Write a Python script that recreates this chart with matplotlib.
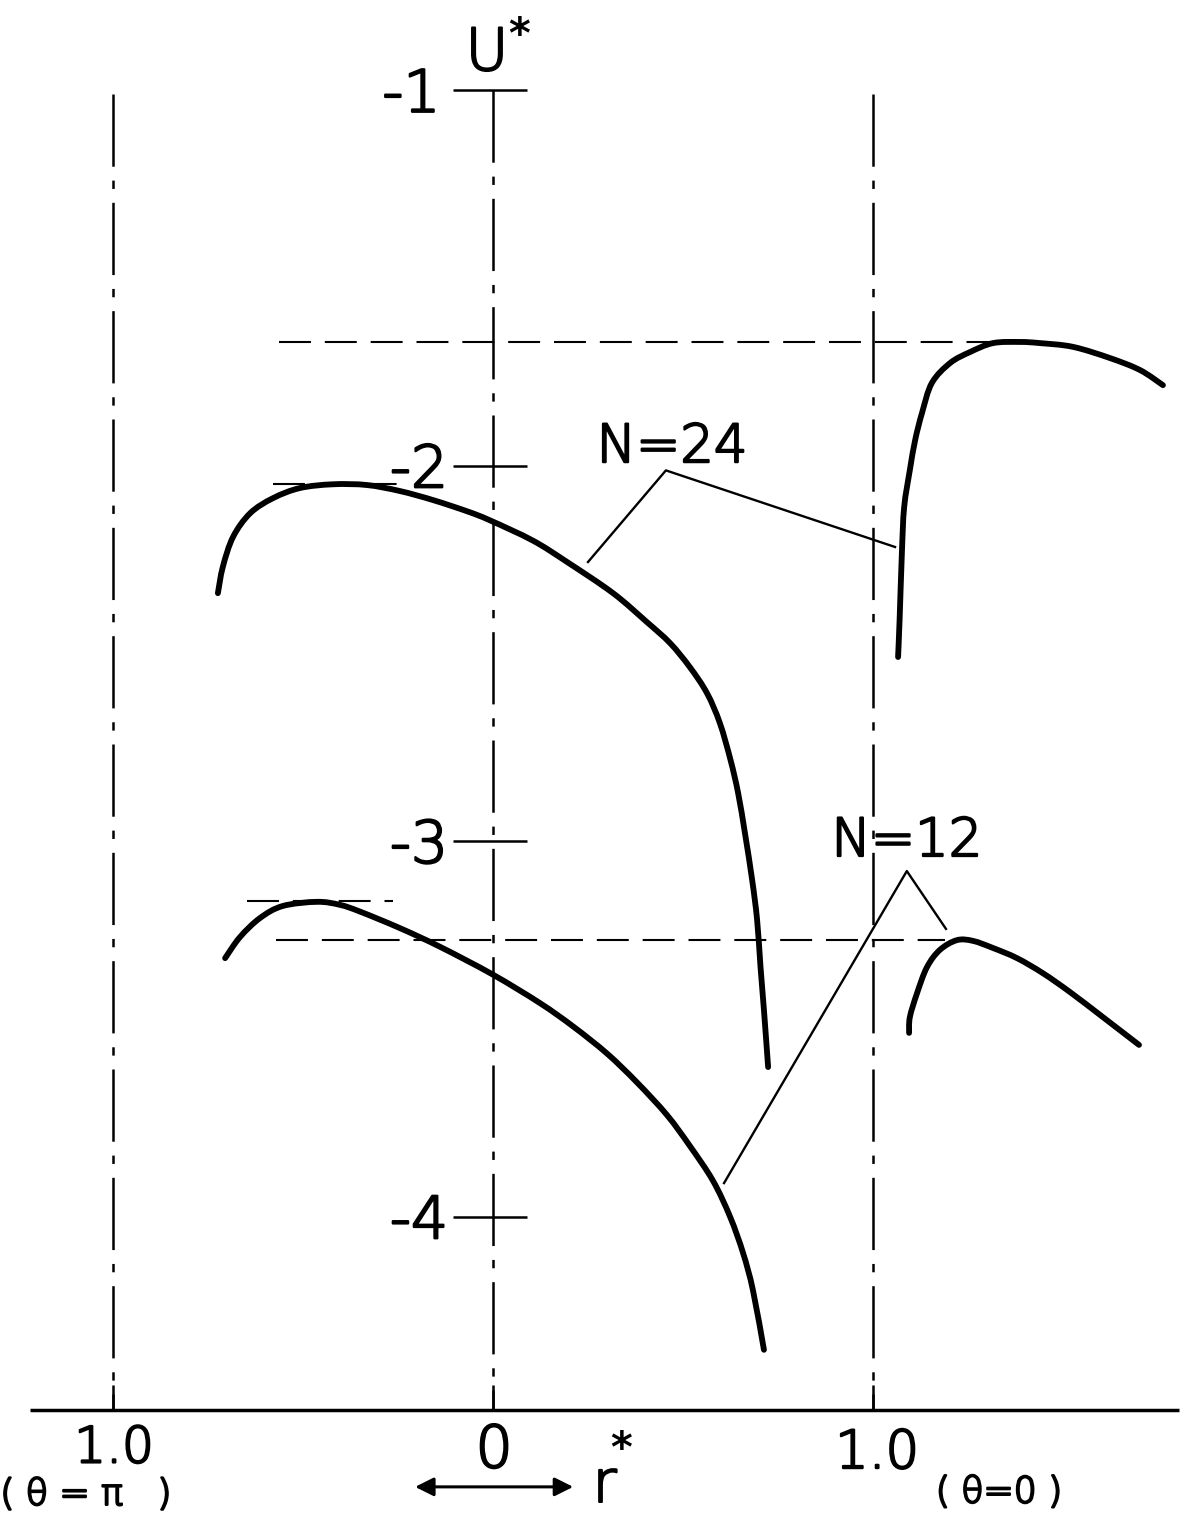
import matplotlib
matplotlib.use("Agg")
import numpy as np
import matplotlib.pyplot as plt
import matplotlib.patheffects as pe
from matplotlib.path import Path
from matplotlib.patches import PathPatch

plt.rcParams["lines.scale_dashes"] = False
plt.rcParams["font.family"] = ["DejaVu Sans"]

# Potential profiles U*(r*) — N = 24
n24_left_r = [-0.724, -0.711, -0.684, -0.639, -0.579, -0.508, -0.421, -0.332,
              -0.245, -0.158, -0.068, -0.008, 0.105, 0.195, 0.316,
              0.405, 0.466, 0.518, 0.563, 0.597, 0.625, 0.645, 0.663,
              0.682, 0.695, 0.704, 0.713, 0.724]
n24_left_u = [-2.340, -2.270, -2.190, -2.127, -2.087, -2.060, -2.050, -2.052,
              -2.068, -2.092, -2.122, -2.146, -2.200, -2.257, -2.340,
              -2.417, -2.473, -2.537, -2.606, -2.686, -2.784, -2.872, -2.979,
              -3.104, -3.210, -3.336, -3.450, -3.602]
n24_right_r = [1.066, 1.070, 1.076, 1.082, 1.097, 1.111, 1.129, 1.155, 1.203,
               1.255, 1.316, 1.387, 1.439, 1.526, 1.624, 1.703, 1.763]
n24_right_u = [-2.510, -2.411, -2.233, -2.111, -2.012, -1.932, -1.860, -1.780,
               -1.727, -1.698, -1.674, -1.671, -1.674, -1.684, -1.714, -1.746,
               -1.786]

# Potential profiles U*(r*) — N = 12
n12_left_r = [-0.705, -0.666, -0.613, -0.553, -0.463, -0.403, -0.350, -0.245,
              -0.139, 0.000, 0.124, 0.211, 0.300, 0.379, 0.458, 0.518, 0.579,
              0.624, 0.658, 0.684, 0.713]
n12_left_u = [-3.312, -3.256, -3.205, -3.173, -3.162, -3.170, -3.188, -3.232,
              -3.282, -3.356, -3.432, -3.494, -3.566, -3.643, -3.730, -3.812,
              -3.905, -4.001, -4.097, -4.196, -4.355]
n12_right_r = [1.095, 1.097, 1.116, 1.142, 1.176, 1.221, 1.263, 1.316, 1.379,
               1.447, 1.518, 1.605, 1.700]
n12_right_u = [-3.511, -3.469, -3.405, -3.336, -3.290, -3.264, -3.266, -3.285,
               -3.312, -3.352, -3.402, -3.469, -3.543]

# Maximum levels (U*, r* from, r* to)
peak_levels = [-1.672, -2.050, -3.160, -3.264]
peak_from = [-0.563, -0.579, -0.647, -0.571]
peak_to = [1.316, -0.237, -0.263, 1.189]

# Axis ticks
u_ticks = [-1, -2, -3, -4]
u_tick_labels = ["-1", "-2", "-3", "-4"]
r_ticks = [-1.0, 0.0, 1.0]
r_tick_labels = ["1.0", "0", "1.0"]
r_sub_labels = ["( θ = π   )", "", "( θ=0 )"]

U_AXIS = -4.515          # level of the r* axis line
U_TOP = -1.01            # top of the guide lines


def smooth_curve(xs, ys):
    """Cubic Bezier path passing through every given point (Catmull-Rom)."""
    p = np.column_stack([xs, ys]).astype(float)
    n = len(p)
    verts = [p[0]]
    codes = [Path.MOVETO]
    for i in range(n - 1):
        p0 = p[i - 1] if i > 0 else p[i]
        p1, p2 = p[i], p[i + 1]
        p3 = p[i + 2] if i + 2 < n else p[i + 1]
        verts += [p1 + (p2 - p0) / 6.0, p2 - (p3 - p1) / 6.0, p2]
        codes += [Path.CURVE4] * 3
    return Path(verts, codes)


fig = plt.figure(figsize=(11.8, 15.13), dpi=100)
ax = fig.add_axes([0, 0, 1, 1])
ax.set_xlim(-1.2974, 1.8079)
ax.set_ylim(-4.7896, -0.7603)
ax.axis("off")

ink = "black"
# thin lettering, thickened a little with an outline stroke
pen = [pe.withStroke(linewidth=1.6, foreground=ink)]
font = dict(family="DejaVu Sans", color=ink, fontweight="light",
            path_effects=pen)
star = dict(family="DejaVu Sans", color=ink, fontweight="bold")

# dash-dot guide lines at r* = -1, 0, 1
for r in r_ticks:
    top = -1.0 if r == 0 else U_TOP
    ax.plot([r, r], [top, U_AXIS], color=ink, lw=1.8,
            dashes=(52, 10, 6, 10), solid_capstyle="butt", dash_capstyle="butt")

# r* axis and its ticks
ax.plot([-1.218, 1.805], [U_AXIS, U_AXIS], color=ink, lw=2.5,
        solid_capstyle="butt")
for r in r_ticks:
    ax.plot([r, r], [U_AXIS, U_AXIS + 0.065], color=ink, lw=1.8,
            solid_capstyle="butt")

# U* ticks on the central axis
for u, lab in zip(u_ticks, u_tick_labels):
    ax.plot([-0.105, 0.090], [u, u], color=ink, lw=1.8, solid_capstyle="butt")
    ax.text(-0.118 if u != -1 else -0.138, u - 0.058, lab, ha="right",
            va="baseline", fontsize=42, **font)

# axis title U*
ax.text(-0.016, -0.947, "U", ha="center", va="baseline", fontsize=42, **font)
ax.text(0.068, -0.887, "*", ha="center", va="baseline", fontsize=30, **star)

# dashed lines marking the maxima
for u, r0, r1 in zip(peak_levels, peak_from, peak_to):
    ax.plot([r0, r1], [u, u], color=ink, lw=1.5, dashes=(23, 10),
            dash_capstyle="butt")

# profiles
for rr, uu in [(n24_left_r, n24_left_u), (n24_right_r, n24_right_u),
               (n12_left_r, n12_left_u), (n12_right_r, n12_right_u)]:
    ax.add_patch(PathPatch(smooth_curve(rr, uu), fill=False, edgecolor=ink,
                           lw=4.2, capstyle="round", joinstyle="round"))

# N labels with leader lines
ax.text(0.471, -1.991, "N=24", ha="center", va="baseline", fontsize=38, **font)
ax.plot([0.250, 0.455, 1.058], [-2.257, -2.013, -2.217], color=ink, lw=1.7)
ax.text(1.089, -3.040, "N=12", ha="center", va="baseline", fontsize=38, **font)
ax.plot([0.608, 1.089, 1.192], [-3.911, -3.080, -3.234], color=ink, lw=1.7)

# r* tick labels
label_x = [-0.997, 0.003, 1.011]
label_base = [-4.655, -4.668, -4.670]
label_size = [36, 42, 38]
for x, b, s, lab in zip(label_x, label_base, label_size, r_tick_labels):
    ax.text(x, b, lab, ha="center", va="baseline", fontsize=s, **font)
ax.text(-1.071, -4.768, r_sub_labels[0], ha="center", va="baseline",
        fontsize=26, **font)
ax.text(1.332, -4.762, r_sub_labels[2], ha="center", va="baseline",
        fontsize=26, **font)

# r* direction arrow
ax.annotate("", xy=(0.211, -4.720), xytext=(-0.205, -4.720),
            arrowprops=dict(arrowstyle="<|-|>", color=ink, lw=2.2,
                            mutation_scale=28, shrinkA=0, shrinkB=0))
ax.text(0.262, -4.760, "r", ha="left", va="baseline", fontsize=42, **font)
ax.text(0.338, -4.655, "*", ha="center", va="baseline", fontsize=30, **star)

fig.savefig("out.png", dpi=100, facecolor="white")
